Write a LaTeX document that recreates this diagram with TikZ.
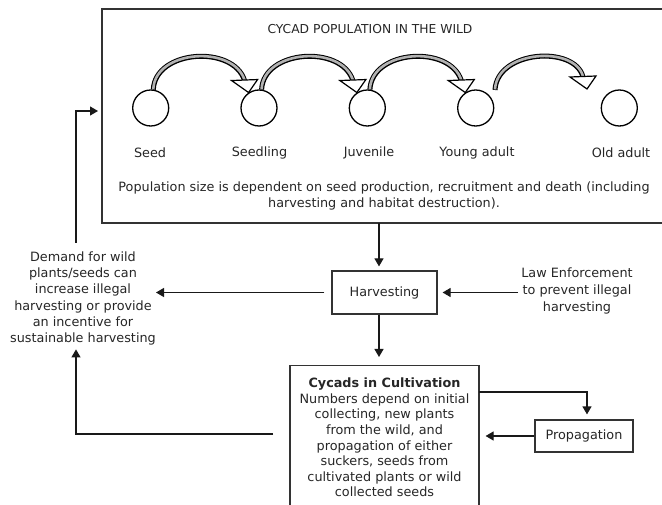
\documentclass[tikz,border=0pt]{standalone}
\usepackage{fontspec}
\setmainfont{DejaVu Sans}
\usetikzlibrary{arrows.meta,calc}
\newcommand{\cycarrow}[2]{%
  \path (#1) coordinate (ca) (#2) coordinate (cb);
  \draw[line width=5pt, black] (ca) .. controls ($(ca)+(2,-40)$) and ($(ca)+(80,-45)$) .. ($(cb)+(-4,-12)$);
  \draw[line width=2.6pt, black!30] ($(ca)+(0,-0.6)$) .. controls ($(ca)+(2,-40)$) and ($(ca)+(80,-45)$) .. ($(cb)+(-4,-12.5)$);
  \draw[line width=1.2pt, fill=white, line join=miter] ($(cb)+(-17,-12)$) -- ($(cb)+(9,-13)$) -- (cb) -- cycle;
}
\begin{document}
\begin{tikzpicture}[x=1pt,y=-1pt,
  txt/.style={font=\fontsize{12.8}{16}\selectfont, text=black!85, inner sep=0pt, align=center},
  boxstyle/.style={draw=black!80, line width=1.2pt, font=\fontsize{12.8}{16}\selectfont, text=black!85, inner sep=0pt},
  boxline/.style={draw=black!80, line width=1.2pt},
  arr/.style={-{Triangle[length=8pt,width=9pt]}, line width=1.2pt, draw=black!90},
  stage/.style={circle, draw=black, line width=1.3pt, minimum size=36pt, inner sep=0pt}]
\useasboundingbox (0,0) rectangle (662,505);

% wild population box (right side runs off the picture)
\coordinate (wtl) at (102,9);
\coordinate (wbl) at (102,223);
\coordinate (wtr) at (663,9);
\coordinate (wbr) at (663,223);
\draw[boxline] (wtr) -- (wtl) -- (wbl) -- (wbr);

\node[txt, font=\fontsize{12.3}{16}\selectfont] (title) at (370,29) {CYCAD POPULATION IN THE WILD};

\node[stage] (s1) at (150.7,108) {};
\node[stage] (s2) at (259,108) {};
\node[stage] (s3) at (367.3,108) {};
\node[stage] (s4) at (475.7,108) {};
\node[stage] (s5) at (619.3,108) {};

\node[txt] (l1) at (150,153) {Seed};
\node[txt] (l2) at (259.5,153) {Seedling};
\node[txt] (l3) at (369,153) {Juvenile};
\node[txt] (l4) at (477,153) {Young adult};
\node[txt] (l5) at (621,153) {Old adult};

\coordinate (a4) at (495,90);
\coordinate (t4) at (587,89);
\cycarrow{s1.82}{s2.124}
\cycarrow{s2.82}{s3.124}
\cycarrow{s3.82}{s4.124}
\cycarrow{a4}{t4}

\node[txt] (pop) at (384,196) {Population size is dependent on seed production, recruitment and death (including\\harvesting and habitat destruction).};

% harvesting
\node[boxstyle, minimum width=105pt, minimum height=43pt] (harv) at (384.5,292.5) {Harvesting};
\node[txt, font=\fontsize{12.8}{17}\selectfont] (law) at (577,291) {Law Enforcement\\to prevent illegal\\harvesting};
\node[txt, font=\fontsize{12.8}{16.2}\selectfont] (dem) at (83,298.5) {Demand for wild\\plants/seeds can\\increase illegal\\harvesting or provide\\an incentive for\\sustainable harvesting};

% cultivation
\node[draw=black!80, line width=1.2pt, minimum width=189pt, minimum height=160pt, anchor=north, inner sep=0pt] (cult) at (384.5,365) {};
\node[txt, font=\fontsize{12.8}{15.6}\selectfont] (culttxt) at (384.5,437.5) {\textbf{Cycads in Cultivation}\\Numbers depend on initial\\collecting, new plants\\from the wild, and\\propagation of either\\suckers, seeds from\\cultivated plants or wild\\collected seeds};
\node[boxstyle, minimum width=98pt, minimum height=32pt] (prop) at (584,436) {Propagation};

% connectors
\coordinate (wb) at (379,223);
\coordinate (lx) at (76,0);
\coordinate (feedin) at (98,111);
\coordinate (cl) at (273,434);
\coordinate (cr) at (479,392);

\draw[arr, shorten >=4pt] (wb) -- (wb |- harv.north);
\draw[arr, shorten >=8pt] (harv.south -| wb) -- (cult.north -| wb);
\draw[arr] ([xshift=-7pt]harv.west) -- (harv.west -| dem.east);
\draw[arr] ([xshift=-3pt]law.west |- harv.east) -- ([xshift=5pt]harv.east);
\draw[arr] ($(dem.north -| lx)+(0,-9)$) |- (feedin);
\draw[arr] (cl) -| ($(dem.south -| lx)+(0,4)$);
\draw[arr, shorten >=5pt] (cr) -| ([xshift=3pt]prop.north);
\draw[arr] (prop.west) -- ([xshift=6pt]cult.east |- prop.west);
\end{tikzpicture}
\end{document}
